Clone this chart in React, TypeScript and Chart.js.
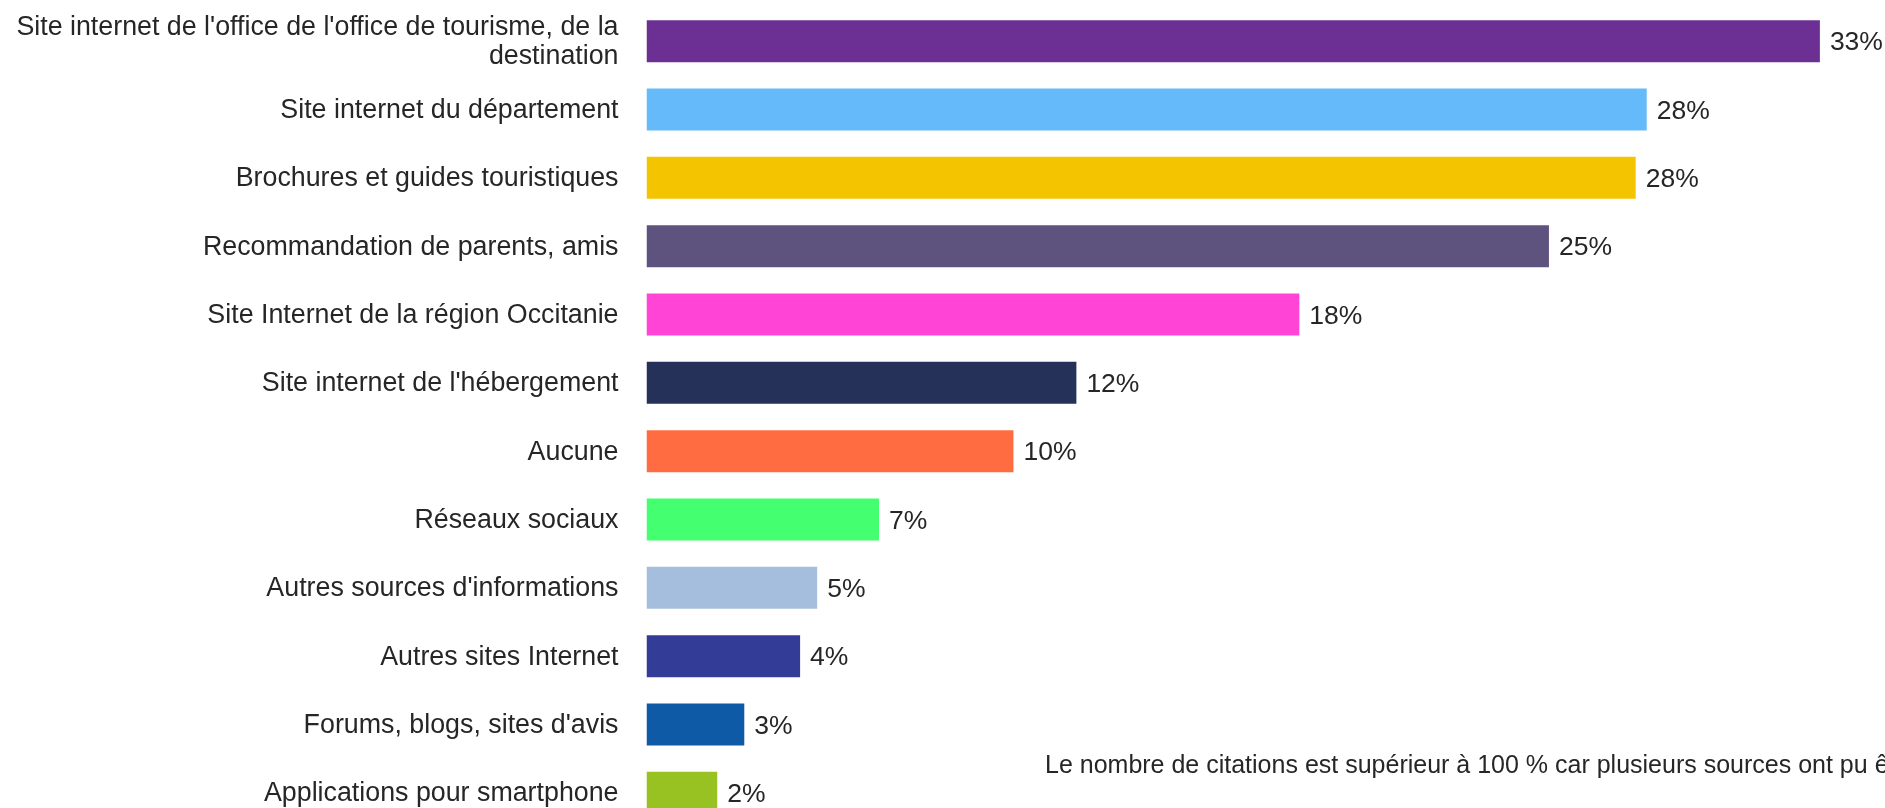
import React, { useEffect, useRef } from "react";
import { Chart, registerables } from "chart.js";

Chart.register(...registerables);

const categories: string[][] = [
  ["Site internet de l'office de l'office de tourisme, de la", "destination"],
  ["Site internet du département"],
  ["Brochures et guides touristiques"],
  ["Recommandation de parents, amis"],
  ["Site Internet de la région Occitanie"],
  ["Site internet de l'hébergement"],
  ["Aucune"],
  ["Réseaux sociaux"],
  ["Autres sources d'informations"],
  ["Autres sites Internet"],
  ["Forums, blogs, sites d'avis"],
  ["Applications pour smartphone"],
];

const values: number[] = [33.0, 28.13, 27.82, 25.38, 18.36, 12.09, 10.32, 6.54, 4.8, 4.32, 2.75, 1.99];

const barColors: string[] = [
  "#6C3094",
  "#65BAF9",
  "#F5C400",
  "#5E537E",
  "#FF44D6",
  "#26315A",
  "#FF6C42",
  "#44FF70",
  "#A5BEDD",
  "#333D97",
  "#0E5AA7",
  "#97C221",
];

const footnote = "Le nombre de citations est supérieur à 100 % car plusieurs sources ont pu être citées";

const FONT = "'Liberation Sans', Arial, sans-serif";
const TEXT = "#262626";
const LABEL_SIZE = 26.8;
const LINE_H = 29.5;

const overlayPlugin = {
  id: "overlay",
  afterDatasetsDraw(chart: any) {
    const ctx = chart.ctx;
    const meta = chart.getDatasetMeta(0);
    const left = chart.chartArea.left;
    ctx.save();
    ctx.fillStyle = TEXT;
    // category labels
    ctx.font = `${LABEL_SIZE}px ${FONT}`;
    ctx.textAlign = "right";
    ctx.textBaseline = "middle";
    meta.data.forEach((bar: any, i: number) => {
      const lines = categories[i];
      const n = lines.length;
      lines.forEach((line, k) => {
        const y = bar.y + (k - (n - 1) / 2) * LINE_H;
        ctx.fillText(line, left - 28, y + 1);
      });
    });
    // value labels
    ctx.font = `26.5px ${FONT}`;
    ctx.textAlign = "left";
    meta.data.forEach((bar: any, i: number) => {
      ctx.fillText(`${Math.round(values[i])}%`, bar.x + 10, bar.y + 2);
    });
    // footnote
    ctx.font = `25px ${FONT}`;
    ctx.textBaseline = "alphabetic";
    ctx.fillText(footnote, 1045, 773);
    ctx.restore();
  },
};

export default function App() {
  const ref = useRef<HTMLCanvasElement | null>(null);

  useEffect(() => {
    const canvas = ref.current!;
    const chart = new Chart(canvas, {
      type: "bar",
      data: {
        labels: categories.map((c) => c.join(" ")),
        datasets: [
          {
            data: values,
            backgroundColor: barColors,
            borderWidth: 0,
            barPercentage: 0.615,
            categoryPercentage: 1,
          },
        ],
      },
      options: {
        indexAxis: "y",
        animation: false,
        responsive: false,
        maintainAspectRatio: false,
        layout: { padding: { top: 7, bottom: 13, left: 0, right: 9 } },
        plugins: {
          legend: { display: false },
          tooltip: { enabled: false },
        },
        scales: {
          x: {
            display: false,
            min: 0,
            max: 35,
            grid: { display: false },
          },
          y: {
            grid: { display: false, drawTicks: false },
            border: { display: false },
            ticks: { display: false },
            afterFit(scale: any) {
              scale.width = 646.5;
            },
          },
        },
      },
      plugins: [overlayPlugin],
    });
    return () => chart.destroy();
  }, []);

  return (
    <div
      style={{
        position: "fixed",
        top: 0,
        left: 0,
        width: 1885,
        height: 808,
        overflow: "hidden",
        background: "#fff",
      }}
    >
      <canvas ref={ref} width={1900} height={840} style={{ width: 1900, height: 840, display: "block" }} />
    </div>
  );
}
